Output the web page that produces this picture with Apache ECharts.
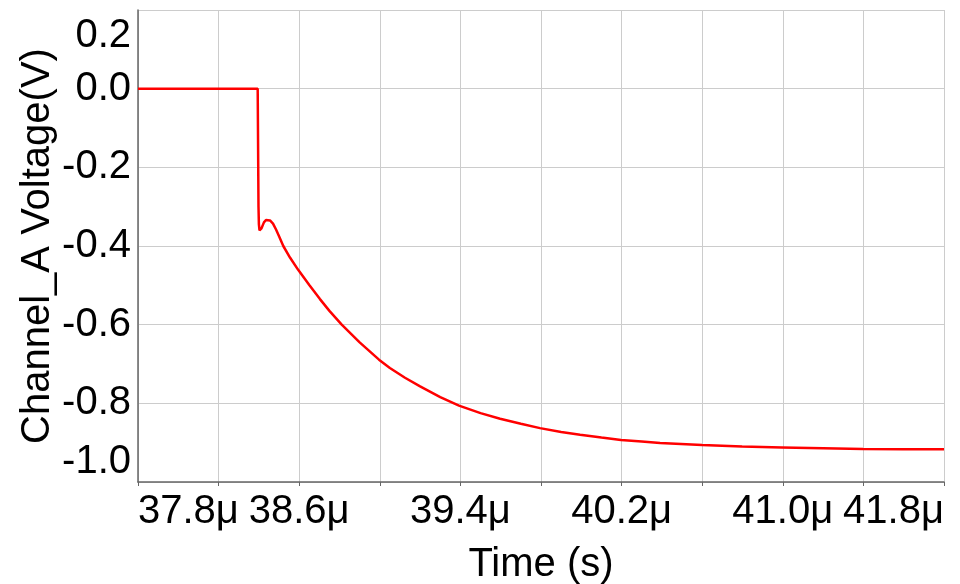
<!DOCTYPE html>
<html>
<head>
<meta charset="utf-8">
<script src="https://cdn.jsdelivr.net/npm/echarts@6/dist/echarts.min.js"></script>
<style>
html,body{margin:0;padding:0;background:#fff;}
#chart{width:960px;height:584px;}
</style>
</head>
<body>
<div id="chart"></div>
<script>
// Time in microseconds
var timeUs = [37.8, 38.394, 38.396, 38.398, 38.400, 38.403, 38.407, 38.413, 38.425, 38.435, 38.444, 38.455, 38.470, 38.485, 38.500, 38.521, 38.555, 38.594, 38.650, 38.703, 38.750, 38.811, 38.900, 38.996, 39.050, 39.125, 39.200, 39.300, 39.393, 39.500, 39.597, 39.700, 39.795, 39.900, 39.994, 40.100, 40.197, 40.300, 40.391, 40.599, 40.798, 40.996, 41.200, 41.398, 41.597, 41.8];
// Channel_A voltage (V)
var voltage = [0.000, 0.000, -0.150, -0.300, -0.345, -0.360, -0.363, -0.355, -0.340, -0.334, -0.333, -0.335, -0.343, -0.358, -0.375, -0.400, -0.430, -0.460, -0.499, -0.535, -0.565, -0.600, -0.645, -0.689, -0.710, -0.735, -0.757, -0.784, -0.806, -0.825, -0.839, -0.852, -0.863, -0.873, -0.880, -0.887, -0.893, -0.897, -0.901, -0.906, -0.910, -0.912, -0.914, -0.916, -0.917, -0.917];
var xMin = 37.8, xMax = 41.8, xStep = 0.4;
var yMin = -1.0, yMax = 0.2, yStep = 0.2;
var xTitle = 'Time (s)';
var yTitle = 'Channel_A Voltage(V)';

var pts = timeUs.map(function (t, i) { return [t, voltage[i]]; });
var font = 'Arial, "Liberation Sans", sans-serif';
var chart = echarts.init(document.getElementById('chart'), null, {renderer: 'canvas'});
chart.setOption({
  animation: false,
  backgroundColor: '#ffffff',
  grid: {left: 138, right: 16, top: 10, bottom: 102, containLabel: false, outerBoundsMode: 'none'},
  xAxis: {
    type: 'value', min: xMin, max: xMax, interval: xStep,
    name: xTitle, nameLocation: 'middle', nameGap: 63, nameMoveOverlap: false,
    nameTextStyle: {fontSize: 40, color: '#000', fontFamily: font},
    axisLine: {show: true, onZero: false, lineStyle: {color: '#666', width: 1.5}},
    axisTick: {show: true, length: 4, lineStyle: {color: '#666'}},
    splitLine: {show: true, lineStyle: {color: '#cccccc', width: 1}},
    axisLabel: {
      fontSize: 40, color: '#000', fontFamily: font, margin: 10,
      alignMinLabel: 'left', alignMaxLabel: 'right',
      formatter: function (v) {
        var k = Math.round((v - xMin) / xStep);
        if (k % 2 !== 0) return '';
        return v.toFixed(1) + 'μ';
      }
    }
  },
  yAxis: {
    type: 'value', min: yMin, max: yMax, interval: yStep,
    name: yTitle, nameLocation: 'middle', nameGap: 80, nameMoveOverlap: false,
    nameTextStyle: {fontSize: 40, color: '#000', fontFamily: font},
    axisLine: {show: true, onZero: false, lineStyle: {color: '#666', width: 1.5}},
    axisTick: {show: false},
    splitLine: {show: true, lineStyle: {color: '#cccccc', width: 1}},
    axisLabel: {
      fontSize: 40, color: '#000', fontFamily: font, margin: 7,
      verticalAlignMinLabel: 'bottom', verticalAlignMaxLabel: 'top',
      formatter: function (v) {
        var s = v.toFixed(1);
        if (Math.abs(v - yMax) < 1e-9) return '{top|' + s + '}';
        return s;
      },
      rich: {top: {fontSize: 40, color: '#000', fontFamily: font, padding: [6, 0, 0, 0]}}
    }
  },
  series: [{
    type: 'line', data: pts, showSymbol: false, smooth: false,
    lineStyle: {color: '#ff0000', width: 2.5},
    itemStyle: {color: '#ff0000'}
  }]
});
</script>
</body>
</html>
